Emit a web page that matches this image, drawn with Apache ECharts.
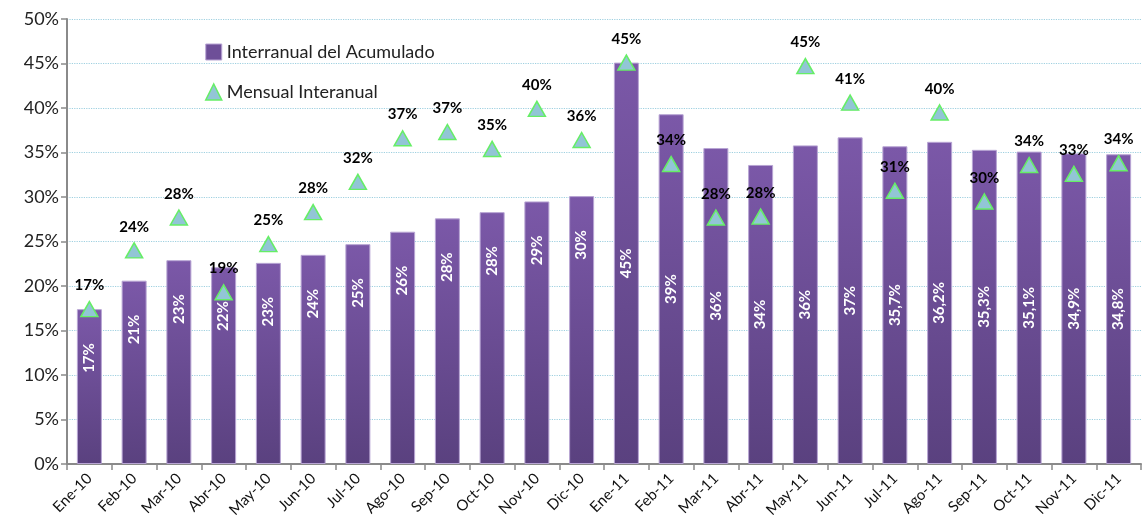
<!DOCTYPE html>
<html>
<head>
<meta charset="utf-8">
<script src="https://cdn.jsdelivr.net/npm/echarts@6/dist/echarts.min.js"></script>
<style>
html, body { margin: 0; padding: 0; background: #fff; }
#chart { width: 1144px; height: 528px; }
</style>
</head>
<body>
<div id="chart"></div>
<script>
// datos
var months = ['Ene-10', 'Feb-10', 'Mar-10', 'Abr-10', 'May-10', 'Jun-10', 'Jul-10', 'Ago-10', 'Sep-10', 'Oct-10', 'Nov-10', 'Dic-10',
  'Ene-11', 'Feb-11', 'Mar-11', 'Abr-11', 'May-11', 'Jun-11', 'Jul-11', 'Ago-11', 'Sep-11', 'Oct-11', 'Nov-11', 'Dic-11']
var acumulado = [17.4, 20.6, 22.9, 22.1, 22.6, 23.5, 24.7, 26.1, 27.6, 28.3, 29.5, 30.1,
  45.1, 39.3, 35.5, 33.6, 35.8, 36.7, 35.7, 36.2, 35.3, 35.1, 34.9, 34.8]
var acumuladoLabels = ['17%', '21%', '23%', '22%', '23%', '24%', '25%', '26%', '28%', '28%', '29%', '30%',
  '45%', '39%', '36%', '34%', '36%', '37%', '35,7%', '36,2%', '35,3%', '35,1%', '34,9%', '34,8%']
var mensual = [17.4, 24.0, 27.7, 19.3, 24.7, 28.3, 31.7, 36.6, 37.3, 35.4, 39.9, 36.4,
  45.1, 33.7, 27.7, 27.8, 44.7, 40.6, 30.7, 39.5, 29.5, 33.6, 32.6, 33.8]
var yTicks = [0, 5, 10, 15, 20, 25, 30, 35, 40, 45, 50]

var font = 'Lato, "Open Sans", sans-serif'
var chart = echarts.init(document.getElementById('chart'))

var barData = acumulado.map(function (v, i) {
  // 2010: etiqueta cerca del extremo, 2011: centrada
  var lbl = i < 12
    ? { position: 'insideTop', distance: 34, align: 'right', verticalAlign: 'middle' }
    : { position: 'inside', align: 'center', verticalAlign: 'middle' }
  return { value: v, label: lbl }
})

var option = {
  animation: false,
  textStyle: { fontFamily: font },
  grid: { left: 67, right: 3, top: 19, bottom: 64 },
  legend: {
    orient: 'vertical',
    left: 200,
    top: 38,
    itemGap: 22,
    itemWidth: 16,
    itemHeight: 16,
    textStyle: { fontSize: 18, color: '#222', fontFamily: font },
    data: [
      { name: 'Interranual del Acumulado', icon: 'rect', itemStyle: { color: '#6e4f98', borderColor: '#b8a5d4', borderWidth: 1 } },
      { name: 'Mensual Interanual', icon: 'triangle', itemStyle: { color: '#92c5d6', borderColor: '#66ee66', borderWidth: 1.5 } }
    ]
  },
  xAxis: {
    type: 'category',
    data: months,
    boundaryGap: true,
    axisLine: { lineStyle: { color: '#8a8a8a', width: 2 } },
    axisTick: { show: true, length: 6, lineStyle: { color: '#8a8a8a', width: 1.5 } },
    axisLabel: { rotate: 45, fontSize: 15, color: '#111', margin: 12, interval: 0 }
  },
  yAxis: {
    type: 'value',
    min: yTicks[0],
    max: yTicks[yTicks.length - 1],
    interval: 5,
    axisLine: { show: true, lineStyle: { color: '#8a8a8a', width: 2 } },
    axisTick: { show: true, length: 6, lineStyle: { color: '#8a8a8a', width: 1.5 } },
    axisLabel: { fontSize: 18, color: '#222', margin: 8, formatter: '{value}%' },
    splitLine: { lineStyle: { color: '#9fd0e0', type: 'dotted', width: 1.2 } }
  },
  series: [{
    name: 'Interranual del Acumulado',
    type: 'bar',
    barWidth: 25,
    data: barData,
    itemStyle: {
      borderColor: '#b8a5d4',
      borderWidth: 1,
      color: new echarts.graphic.LinearGradient(0, 0, 0, 1, [
        { offset: 0, color: '#7b58a8' },
        { offset: 1, color: '#5a417f' }
      ])
    },
    label: {
      show: true,
      rotate: 90,
      color: '#fff',
      fontWeight: 'bold',
      fontSize: 15,
      formatter: function (p) { return acumuladoLabels[p.dataIndex] }
    }
  }, {
    name: 'Mensual Interanual',
    type: 'line',
    data: mensual,
    symbol: 'triangle',
    symbolSize: [17, 15],
    lineStyle: { width: 0, opacity: 0 },
    itemStyle: { color: '#92c5d6', borderColor: '#66ee66', borderWidth: 1.5 },
    label: {
      show: true,
      position: 'top',
      distance: 8,
      color: '#000',
      fontWeight: 'bold',
      fontSize: 15,
      formatter: function (p) { return Math.round(p.value) + '%' }
    },
    z: 5
  }]
}

chart.setOption(option)
window.addEventListener('resize', function () {
  chart.resize()
})
</script>
</body>
</html>
